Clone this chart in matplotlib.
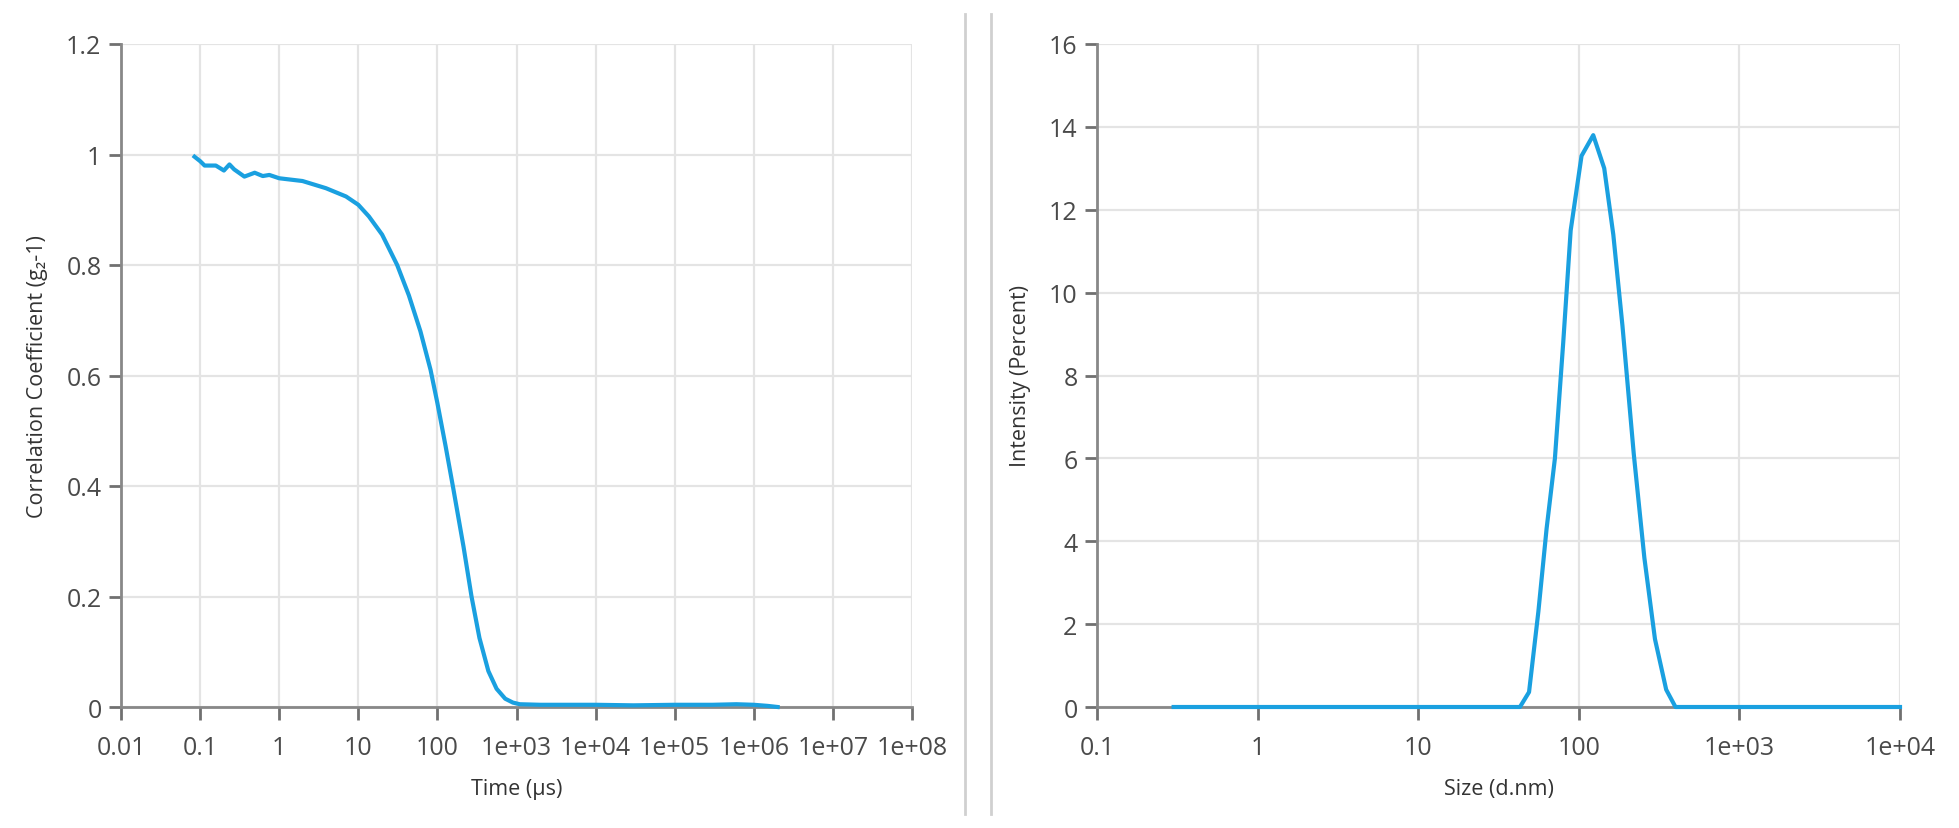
import matplotlib
matplotlib.use('Agg')
import matplotlib.pyplot as plt
from matplotlib.lines import Line2D
from matplotlib.ticker import FixedLocator, FixedFormatter

plt.rcParams['font.family'] = ['Open Sans', 'DejaVu Sans']

# correlation function (left)
time_us = [0.085, 0.1, 0.114, 0.158, 0.2, 0.235, 0.27, 0.363, 0.49, 0.62, 0.75,
           1.0, 1.97, 3.9, 7.0, 10, 13.6, 20, 31, 43.6, 61, 82, 100, 127, 159,
           214, 270, 340, 441, 560, 720, 900, 1100, 2000, 1e4, 3e4, 1e5, 3e5,
           6e5, 1e6, 1.5e6, 2e6]
g2_minus_1 = [0.996, 0.988, 0.980, 0.980, 0.971, 0.982, 0.973, 0.960, 0.967,
              0.961, 0.963, 0.957, 0.952, 0.939, 0.924, 0.909, 0.888, 0.855,
              0.800, 0.745, 0.680, 0.610, 0.550, 0.472, 0.395, 0.290, 0.200,
              0.125, 0.065, 0.033, 0.015, 0.008, 0.005, 0.004, 0.004, 0.003,
              0.004, 0.004, 0.005, 0.004, 0.002, 0.0]
time_ticks = [0.01, 0.1, 1, 10, 100, 1e3, 1e4, 1e5, 1e6, 1e7, 1e8]
time_labels = ['0.01', '0.1', '1', '10', '100', '1e+03', '1e+04', '1e+05',
               '1e+06', '1e+07', '1e+08']
g2_ticks = [0, 0.2, 0.4, 0.6, 0.8, 1, 1.2]
g2_labels = ['0', '0.2', '0.4', '0.6', '0.8', '1', '1.2']

# size distribution (right)
size_nm = [0.3, 1, 10, 43, 49, 56, 63, 71, 80, 89, 104, 123, 144, 164, 187,
           220, 256, 298, 350, 400, 1000, 1e4]
intensity = [0, 0, 0, 0, 0.36, 2.3, 4.3, 6.0, 8.8, 11.5, 13.3, 13.8, 13.0,
             11.4, 9.2, 6.1, 3.6, 1.64, 0.42, 0, 0, 0]
size_ticks = [0.1, 1, 10, 100, 1e3, 1e4]
size_labels = ['0.1', '1', '10', '100', '1e+03', '1e+04']
int_ticks = [0, 2, 4, 6, 8, 10, 12, 14, 16]

blue = '#1aa0e0'
axis_col = '#888888'
grid_col = '#e4e4e4'
text_col = '#4a4a4a'

fig = plt.figure(figsize=(19.59, 8.29), dpi=100)
ax1 = fig.add_axes([121/1959, 1-708/829, (912-121)/1959, (708-45)/829])
ax2 = fig.add_axes([1097/1959, 1-708/829, (1900-1097)/1959, (708-45)/829])


def style(ax, xt, xl, yt, yl, xlabel, ylabel):
    ax.set_xscale('log')
    ax.xaxis.set_major_locator(FixedLocator(xt))
    ax.xaxis.set_major_formatter(FixedFormatter(xl))
    ax.xaxis.set_minor_locator(FixedLocator([]))
    ax.set_yticks(yt)
    ax.set_yticklabels(yl)
    ax.set_xlim(xt[0], xt[-1])
    ax.set_ylim(yt[0], yt[-1])
    ax.grid(True, color=grid_col, lw=1.6)
    ax.set_axisbelow(True)
    for s in ['top', 'right']:
        ax.spines[s].set_visible(False)
    for s in ['left', 'bottom']:
        ax.spines[s].set_color(axis_col)
        ax.spines[s].set_linewidth(2)
    ax.tick_params(axis='x', length=9, width=2, color='#707070', labelsize=18,
                   labelcolor=text_col, pad=11)
    ax.tick_params(axis='y', length=9, width=2, color='#707070', labelsize=18,
                   labelcolor=text_col, pad=5)
    ax.set_xlabel(xlabel, fontsize=15.5, color='#333333', labelpad=13)
    ax.set_ylabel(ylabel, fontsize=15.5, color='#333333', labelpad=13)


style(ax1, time_ticks, time_labels, g2_ticks, g2_labels,
      'Time (µs)', 'Correlation Coefficient (g₂-1)')
ax1.plot(time_us, g2_minus_1, color=blue, lw=3, clip_on=False, zorder=5,
         solid_joinstyle='round')

style(ax2, size_ticks, size_labels, int_ticks, [str(v) for v in int_ticks],
      'Size (d.nm)', 'Intensity (Percent)')
ax2.plot(size_nm, intensity, color=blue, lw=3, clip_on=False, zorder=5,
         solid_joinstyle='round')

# panel separators
for x in [965/1959, 991/1959]:
    fig.add_artist(Line2D([x, x], [1-15/829, 1-815/829], color='#d0d0d0', lw=2))

fig.savefig('out.png', dpi=100, facecolor='white')
